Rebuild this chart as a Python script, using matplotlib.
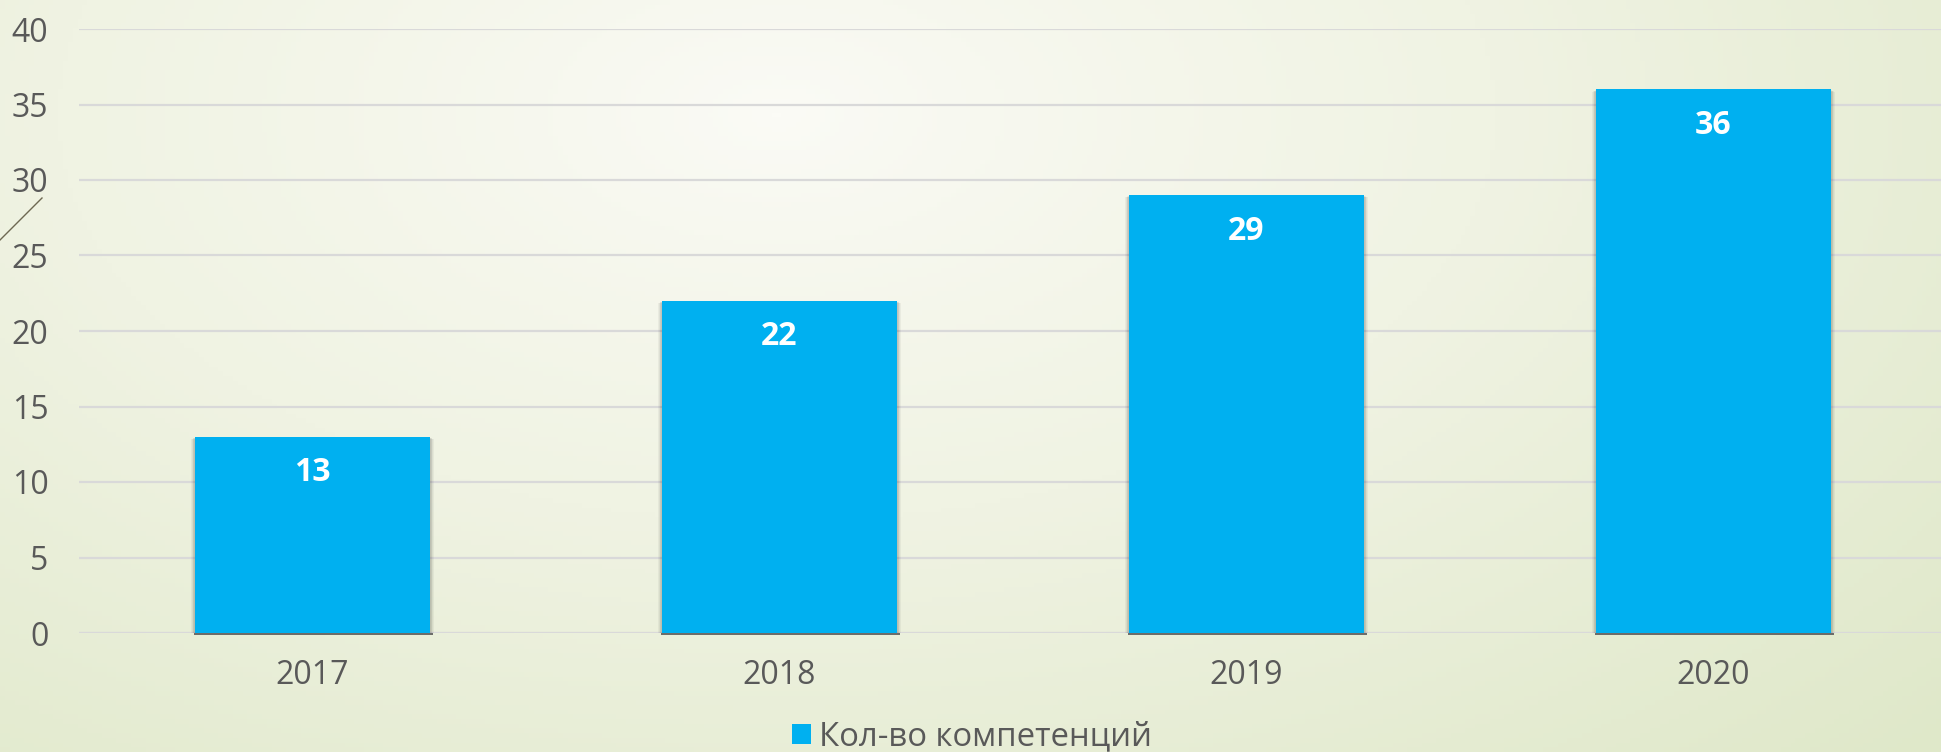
import numpy as np
import matplotlib
matplotlib.use("Agg")
import matplotlib.pyplot as plt
from matplotlib.patches import Patch
from matplotlib.lines import Line2D
from matplotlib.colors import LinearSegmentedColormap

# data
years = ["2017", "2018", "2019", "2020"]
counts = [13, 22, 29, 36]
series_name = "Кол-во компетенций"
y_ticks = [0, 5, 10, 15, 20, 25, 30, 35, 40]

bar_color = "#00b0f0"
text_gray = "#595959"
grid_gray = "#d9d9d9"

plt.rcParams['font.family'] = ['Open Sans', 'DejaVu Sans']

W, H = 1941, 752
fig = plt.figure(figsize=(W / 100, H / 100), dpi=100)

# slide background: pale green, lighter towards upper middle
bg = fig.add_axes([0, 0, 1, 1], zorder=-10)
gx, gy = np.meshgrid(np.linspace(0, 1, 400), np.linspace(0, 1, 160))
dist = np.sqrt(((gx - 0.40) / 0.75) ** 2 + ((gy - 0.15) / 1.1) ** 2)
dist = np.clip(dist / dist.max(), 0, 1)
bg_cmap = LinearSegmentedColormap.from_list("slide", ["#fbfbf6", "#f0f3e3", "#dfe8c9"])
bg.imshow(dist ** 0.85, cmap=bg_cmap, aspect="auto", extent=[0, 1, 0, 1], origin="upper")
bg.axis("off")

# decorative diagonal stroke on the left edge
fig.add_artist(Line2D([0, 42 / W], [1 - 240 / H, 1 - 198 / H], color="#6e6852", lw=1.0))

ax = fig.add_axes([79 / W, 1 - 633 / H, 1868 / W, 604 / H])
ax.patch.set_alpha(0)

x = np.arange(len(years))
bw = 0.503

# soft shadow behind the bars
for k in range(5):
    ax.bar(x, np.array(counts) + 0.05, width=bw + 0.0035 * (k + 1), bottom=-0.12 - 0.02 * k,
           color="black", alpha=0.045, zorder=2, linewidth=0)
ax.hlines([-0.06] * len(x), x - bw / 2 - 0.003, x + bw / 2 + 0.006, color="#5f5f5f",
          lw=1.3, zorder=2.5, clip_on=False)

bars = ax.bar(x, counts, width=bw, color=bar_color, zorder=3, linewidth=0)

for xi, v in zip(x, counts):
    ax.annotate(str(v), (xi, v), xytext=(0, -26), textcoords="offset points",
                ha="center", va="center", color="white", fontsize=23,
                fontweight="bold", zorder=4)

ax.set_xlim(-0.5, len(years) - 0.5)
ax.set_ylim(0, 40)
ax.set_yticks(y_ticks)
ax.set_xticks(x)
ax.set_xticklabels(years)
ax.yaxis.grid(True, color=grid_gray, lw=1.6, zorder=0)
ax.set_axisbelow(True)
for s in ax.spines.values():
    s.set_visible(False)
ax.tick_params(length=0, labelsize=23, colors=text_gray)
ax.tick_params(axis="y", pad=22)
ax.tick_params(axis="x", pad=19)
ax.axhline(0, color=grid_gray, lw=2.2, zorder=1)

fig.legend(handles=[Patch(facecolor=bar_color, edgecolor="none")], labels=[series_name],
           loc="center", bbox_to_anchor=(972 / W, 1 - 737 / H), frameon=False,
           fontsize=23.7, labelcolor=text_gray, handlelength=0.58, handleheight=0.58,
           handletextpad=0.25, borderpad=0, borderaxespad=0)

fig.savefig("out.png", dpi=100)
